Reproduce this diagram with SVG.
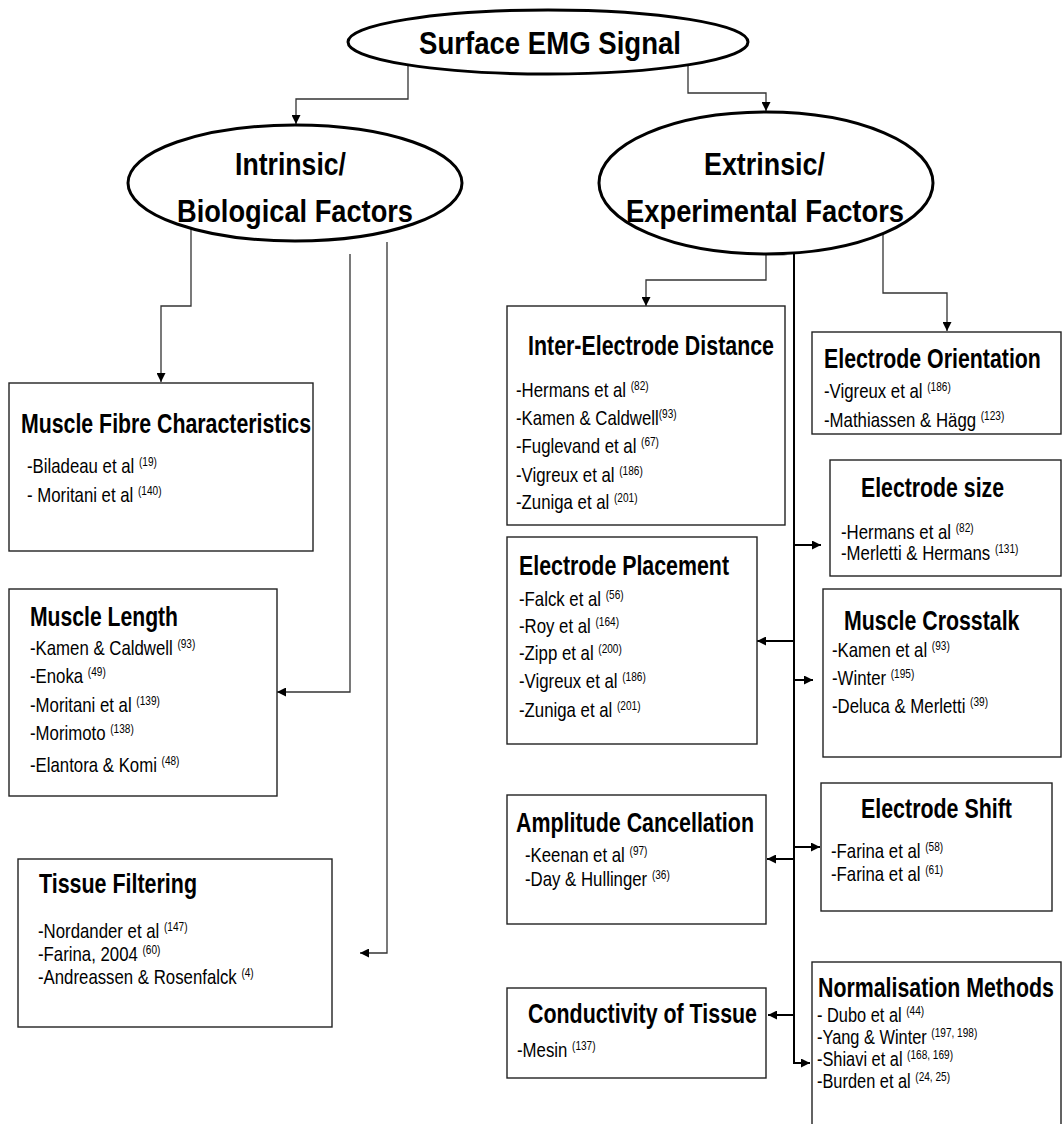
<svg xmlns="http://www.w3.org/2000/svg" width="1062" height="1124" viewBox="0 0 1062 1124">
<style>
text{font-family:"Liberation Sans",Arial,sans-serif;fill:#000}
.e{fill:#fff;stroke:#000;stroke-width:3}
.r{fill:#fff;stroke:#222;stroke-width:1.4}
.h{font-weight:bold;font-size:32px}
.t{font-weight:bold;font-size:27px}
.b{font-size:20px}
.n{font-size:19.5px}
.s{font-size:12px}
.c{fill:none;stroke:#333;stroke-width:1.3}
.k{fill:none;stroke:#000;stroke-width:2}
</style>
<defs>
<marker id="ah" viewBox="0 0 10 10" refX="10" refY="5" markerWidth="9" markerHeight="9" orient="auto" markerUnits="userSpaceOnUse"><path d="M0,0 L10,5 L0,10 z" fill="#000"/></marker>
</defs>
<rect width="1062" height="1124" fill="#fff"/>
<g id="connectors">
<path class="c" d="M408,65 V99 H296 V124" marker-end="url(#ah)"/>
<path class="c" d="M688,65 V93 H766 V111" marker-end="url(#ah)"/>
<path class="c" d="M191,228 V306 H161 V382" marker-end="url(#ah)"/>
<path class="c" d="M350,254 V692 H277" marker-end="url(#ah)"/>
<path class="c" d="M387,242 V953 H360" marker-end="url(#ah)"/>
<path class="c" d="M766,254 V280 H646 V306" marker-end="url(#ah)"/>
<path class="c" d="M883,234 V293 H947 V331" marker-end="url(#ah)"/>
<path class="k" d="M794,250 V1063 H810" marker-end="url(#ah)"/>
<path class="k" d="M794,545 H821" marker-end="url(#ah)"/>
<path class="k" d="M794,641 H757" marker-end="url(#ah)"/>
<path class="k" d="M794,680 H813" marker-end="url(#ah)"/>
<path class="k" d="M794,847 H820" marker-end="url(#ah)"/>
<path class="k" d="M794,859 H767" marker-end="url(#ah)"/>
<path class="k" d="M794,1015 H768" marker-end="url(#ah)"/>
</g>
<g id="surface-emg">
<ellipse class="e" cx="548" cy="42" rx="200" ry="32"/>
<text class="h" x="419" y="54" textLength="262" lengthAdjust="spacingAndGlyphs">Surface EMG Signal</text>
</g>
<g id="intrinsic">
<ellipse class="e" cx="295" cy="183" rx="167" ry="58"/>
<text class="h" x="235" y="175" textLength="111" lengthAdjust="spacingAndGlyphs">Intrinsic/</text>
<text class="h" x="177" y="222" textLength="236" lengthAdjust="spacingAndGlyphs">Biological Factors</text>
</g>
<g id="extrinsic">
<ellipse class="e" cx="766" cy="183" rx="167" ry="71"/>
<text class="h" x="704" y="175" textLength="121" lengthAdjust="spacingAndGlyphs">Extrinsic/</text>
<text class="h" x="626" y="222" textLength="278" lengthAdjust="spacingAndGlyphs">Experimental Factors</text>
</g>
<g id="muscle-fibre">
<rect class="r" x="9" y="383" width="304" height="168"/>
<text class="t" x="21" y="433" textLength="290" lengthAdjust="spacingAndGlyphs">Muscle Fibre Characteristics</text>
<text class="b" transform="translate(27,473) scale(0.84,1)">-Biladeau et al <tspan class="s" dy="-7">(19)</tspan></text>
<text class="b" transform="translate(27,502) scale(0.84,1)">- Moritani et al <tspan class="s" dy="-7">(140)</tspan></text>
</g>
<g id="muscle-length">
<rect class="r" x="9" y="589" width="268" height="207"/>
<text class="t" x="30" y="626" textLength="148" lengthAdjust="spacingAndGlyphs">Muscle Length</text>
<text class="b" transform="translate(30,655) scale(0.84,1)">-Kamen &amp; Caldwell <tspan class="s" dy="-7">(93)</tspan></text>
<text class="b" transform="translate(30,683) scale(0.84,1)">-Enoka <tspan class="s" dy="-7">(49)</tspan></text>
<text class="b" transform="translate(30,712) scale(0.84,1)">-Moritani et al <tspan class="s" dy="-7">(139)</tspan></text>
<text class="b" transform="translate(30,740) scale(0.84,1)">-Morimoto <tspan class="s" dy="-7">(138)</tspan></text>
<text class="b" transform="translate(30,772) scale(0.84,1)">-Elantora &amp; Komi <tspan class="s" dy="-7">(48)</tspan></text>
</g>
<g id="tissue-filtering">
<rect class="r" x="18" y="859" width="314" height="168"/>
<text class="t" x="39" y="893" textLength="158" lengthAdjust="spacingAndGlyphs">Tissue Filtering</text>
<text class="b" transform="translate(38,938) scale(0.84,1)">-Nordander et al <tspan class="s" dy="-7">(147)</tspan></text>
<text class="b" transform="translate(38,961) scale(0.84,1)">-Farina, 2004 <tspan class="s" dy="-7">(60)</tspan></text>
<text class="b" transform="translate(38,984) scale(0.84,1)">-Andreassen &amp; Rosenfalck <tspan class="s" dy="-7">(4)</tspan></text>
</g>
<g id="inter-electrode">
<rect class="r" x="507" y="306" width="278" height="219"/>
<text class="t" x="528" y="355" textLength="246" lengthAdjust="spacingAndGlyphs">Inter-Electrode Distance</text>
<text class="b" transform="translate(516,397) scale(0.84,1)">-Hermans et al <tspan class="s" dy="-7">(82)</tspan></text>
<text class="b" transform="translate(516,425) scale(0.84,1)">-Kamen &amp; Caldwell<tspan class="s" dy="-7">(93)</tspan></text>
<text class="b" transform="translate(516,453) scale(0.84,1)">-Fuglevand et al <tspan class="s" dy="-7">(67)</tspan></text>
<text class="b" transform="translate(516,482) scale(0.84,1)">-Vigreux et al <tspan class="s" dy="-7">(186)</tspan></text>
<text class="b" transform="translate(516,509) scale(0.84,1)">-Zuniga et al <tspan class="s" dy="-7">(201)</tspan></text>
</g>
<g id="electrode-orientation">
<rect class="r" x="812" y="332" width="249" height="102"/>
<text class="t" transform="translate(824,368) scale(0.79,1)">Electrode Orientation</text>
<text class="b" transform="translate(824,398) scale(0.84,1)">-Vigreux et al <tspan class="s" dy="-7">(186)</tspan></text>
<text class="b" transform="translate(824,427) scale(0.84,1)">-Mathiassen &amp; Hägg <tspan class="s" dy="-7">(123)</tspan></text>
</g>
<g id="electrode-size">
<rect class="r" x="830" y="460" width="231" height="116"/>
<text class="t" x="861" y="497" textLength="143" lengthAdjust="spacingAndGlyphs">Electrode size</text>
<text class="b" transform="translate(841,539) scale(0.84,1)">-Hermans et al <tspan class="s" dy="-7">(82)</tspan></text>
<text class="b" transform="translate(841,560) scale(0.84,1)">-Merletti &amp; Hermans <tspan class="s" dy="-7">(131)</tspan></text>
</g>
<g id="electrode-placement">
<rect class="r" x="507" y="537" width="250" height="207"/>
<text class="t" x="519" y="575" textLength="210" lengthAdjust="spacingAndGlyphs">Electrode Placement</text>
<text class="b" transform="translate(519,606) scale(0.84,1)">-Falck et al <tspan class="s" dy="-7">(56)</tspan></text>
<text class="b" transform="translate(519,633) scale(0.84,1)">-Roy et al <tspan class="s" dy="-7">(164)</tspan></text>
<text class="b" transform="translate(519,660) scale(0.84,1)">-Zipp et al <tspan class="s" dy="-7">(200)</tspan></text>
<text class="b" transform="translate(519,688) scale(0.84,1)">-Vigreux et al <tspan class="s" dy="-7">(186)</tspan></text>
<text class="b" transform="translate(519,717) scale(0.84,1)">-Zuniga et al <tspan class="s" dy="-7">(201)</tspan></text>
</g>
<g id="muscle-crosstalk">
<rect class="r" x="823" y="589" width="238" height="168"/>
<text class="t" transform="translate(844,630) scale(0.79,1)">Muscle Crosstalk</text>
<text class="b" transform="translate(832,657) scale(0.84,1)">-Kamen et al <tspan class="s" dy="-7">(93)</tspan></text>
<text class="b" transform="translate(832,685) scale(0.84,1)">-Winter <tspan class="s" dy="-7">(195)</tspan></text>
<text class="b" transform="translate(832,713) scale(0.84,1)">-Deluca &amp; Merletti <tspan class="s" dy="-7">(39)</tspan></text>
</g>
<g id="amplitude-cancellation">
<rect class="r" x="507" y="795" width="259" height="129"/>
<text class="t" x="516" y="832" textLength="238" lengthAdjust="spacingAndGlyphs">Amplitude Cancellation</text>
<text class="b" transform="translate(525,862) scale(0.84,1)">-Keenan et al <tspan class="s" dy="-7">(97)</tspan></text>
<text class="b" transform="translate(525,886) scale(0.84,1)">-Day &amp; Hullinger <tspan class="s" dy="-7">(36)</tspan></text>
</g>
<g id="electrode-shift">
<rect class="r" x="821" y="783" width="231" height="128"/>
<text class="t" x="861" y="818" textLength="151" lengthAdjust="spacingAndGlyphs">Electrode Shift</text>
<text class="b" transform="translate(831,858) scale(0.84,1)">-Farina et al <tspan class="s" dy="-7">(58)</tspan></text>
<text class="b" transform="translate(831,881) scale(0.84,1)">-Farina et al <tspan class="s" dy="-7">(61)</tspan></text>
</g>
<g id="conductivity">
<rect class="r" x="507" y="988" width="259" height="90"/>
<text class="t" x="528" y="1023" textLength="229" lengthAdjust="spacingAndGlyphs">Conductivity of Tissue</text>
<text class="b" transform="translate(517,1057) scale(0.84,1)">-Mesin <tspan class="s" dy="-7">(137)</tspan></text>
</g>
<g id="normalisation">
<rect class="r" x="812" y="962" width="249" height="180"/>
<text class="t" transform="translate(818,997) scale(0.79,1)">Normalisation Methods</text>
<text class="n" transform="translate(817,1022) scale(0.84,1)">- Dubo et al <tspan class="s" dy="-7">(44)</tspan></text>
<text class="n" transform="translate(817,1044) scale(0.84,1)">-Yang &amp; Winter <tspan class="s" dy="-7">(197, 198)</tspan></text>
<text class="n" transform="translate(817,1066) scale(0.84,1)">-Shiavi et al <tspan class="s" dy="-7">(168, 169)</tspan></text>
<text class="n" transform="translate(817,1088) scale(0.84,1)">-Burden et al <tspan class="s" dy="-7">(24, 25)</tspan></text>
</g>
</svg>
